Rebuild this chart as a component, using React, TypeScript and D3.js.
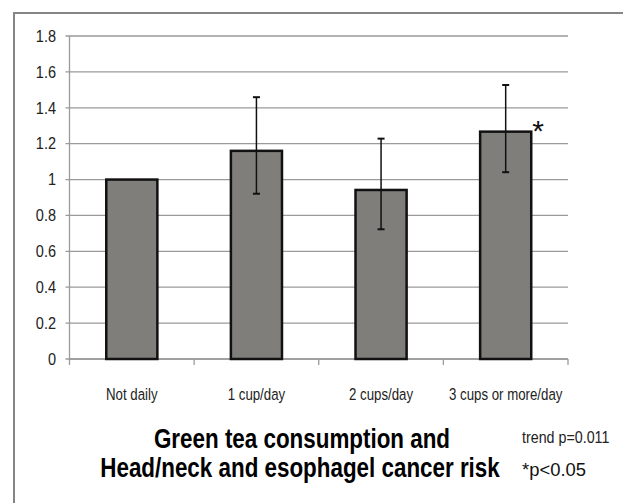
import React from 'react';
import * as d3 from 'd3';

const categories = ['Not daily', '1 cup/day', '2 cups/day', '3 cups or more/day'];
const values = [1.0, 1.16, 0.942, 1.267];
const lower = [null, 0.921, 0.723, 1.041];
const upper = [null, 1.459, 1.228, 1.527];
const yTicks = [0, 0.2, 0.4, 0.6, 0.8, 1, 1.2, 1.4, 1.6, 1.8];
const titleLines = ['Green tea consumption and', 'Head/neck and esophagel cancer risk'];
const notes = ['trend p=0.011', '*p<0.05'];
const starred = '3 cups or more/day';

const W = 623;
const H = 503;
const plot = { left: 69.5, right: 568, top: 36, bottom: 359 };
const sans = '"Liberation Sans", Arial, sans-serif';
const grid = '#9a9a9a';

// the source used a condensed font; squeeze Liberation Sans horizontally instead
const Squeezed = ({ x, y, sx, children, ...rest }: any) => (
  <text transform={`translate(${x},${y}) scale(${sx},1)`} fontFamily={sans} {...rest}>{children}</text>
);

const App = () => {
  const x = d3.scaleBand<string>()
    .domain(categories)
    .range([plot.left, plot.right])
    .paddingInner(0.59)
    .paddingOuter(0.295);

  const y = d3.scaleLinear().domain([0, 1.8]).range([plot.bottom, plot.top]);

  const step = x.step();
  const bw = x.bandwidth();
  // slot boundaries for the category tick marks
  const slots = d3.range(categories.length + 1).map(i => plot.left + i * step);

  return (
    <svg width={W} height={H} style={{ position: 'absolute', left: 0, top: 0, display: 'block', background: '#fff' }}>
      {/* outer frame, runs off the page to the right and bottom */}
      <rect x={14} y={13} width={700} height={600} fill="none" stroke="#858585" strokeWidth={2} />

      {/* gridlines + y labels */}
      {yTicks.map(t => (
        <g key={t}>
          <line x1={plot.left - 4} x2={plot.right} y1={y(t)} y2={y(t)} stroke={grid} strokeWidth={1.3} />
          <Squeezed x={56} y={y(t)} sx={0.88} dy="0.35em" textAnchor="end" fontSize={16.5} fill="#222">
            {d3.format('~g')(t)}
          </Squeezed>
        </g>
      ))}

      {/* axes */}
      <line x1={plot.left} x2={plot.left} y1={plot.top} y2={plot.bottom} stroke={grid} strokeWidth={1.3} />
      <line x1={plot.left} x2={plot.right} y1={plot.bottom} y2={plot.bottom} stroke={grid} strokeWidth={1.3} />
      {slots.map((sx, i) => (
        <line key={i} x1={sx} x2={sx} y1={plot.bottom} y2={plot.bottom + 6} stroke={grid} strokeWidth={1.3} />
      ))}

      {/* bars */}
      {categories.map((c, i) => (
        <rect key={c} x={x(c)} y={y(values[i])} width={bw} height={y(0) - y(values[i])}
          fill="#7f7e7a" stroke="#111" strokeWidth={2.5} />
      ))}

      {/* error bars */}
      {categories.map((c, i) => {
        if (lower[i] == null || upper[i] == null) return null;
        const cx = (x(c) as number) + bw / 2;
        return (
          <g key={c} stroke="#111">
            <line x1={cx} x2={cx} y1={y(upper[i] as number)} y2={y(lower[i] as number)} strokeWidth={1.5} />
            <line x1={cx - 3.5} x2={cx + 3.5} y1={y(upper[i] as number)} y2={y(upper[i] as number)} strokeWidth={2} />
            <line x1={cx - 3.5} x2={cx + 3.5} y1={y(lower[i] as number)} y2={y(lower[i] as number)} strokeWidth={2} />
          </g>
        );
      })}

      {/* significance star */}
      <text x={(x(starred) as number) + bw + 1} y={y(values[categories.indexOf(starred)]) + 9}
        fontFamily={sans} fontSize={30} fill="#111">*</text>

      {/* category labels */}
      {categories.map(c => (
        <Squeezed key={c} x={(x(c) as number) + bw / 2} y={400} sx={0.78} textAnchor="middle" fontSize={17} fill="#222">
          {c}
        </Squeezed>
      ))}

      {/* title */}
      <Squeezed x={302} y={448} sx={0.8} textAnchor="middle" fontWeight="bold" fontSize={28} fill="#000">
        {titleLines[0]}
      </Squeezed>
      <Squeezed x={300} y={477} sx={0.8} textAnchor="middle" fontWeight="bold" fontSize={28} fill="#000">
        {titleLines[1]}
      </Squeezed>

      {/* notes */}
      <Squeezed x={522} y={443} sx={0.84} fontSize={17} fill="#222">{notes[0]}</Squeezed>
      <Squeezed x={522} y={476} sx={0.97} fontSize={19} fill="#111">{notes[1]}</Squeezed>
    </svg>
  );
};

export default App;
